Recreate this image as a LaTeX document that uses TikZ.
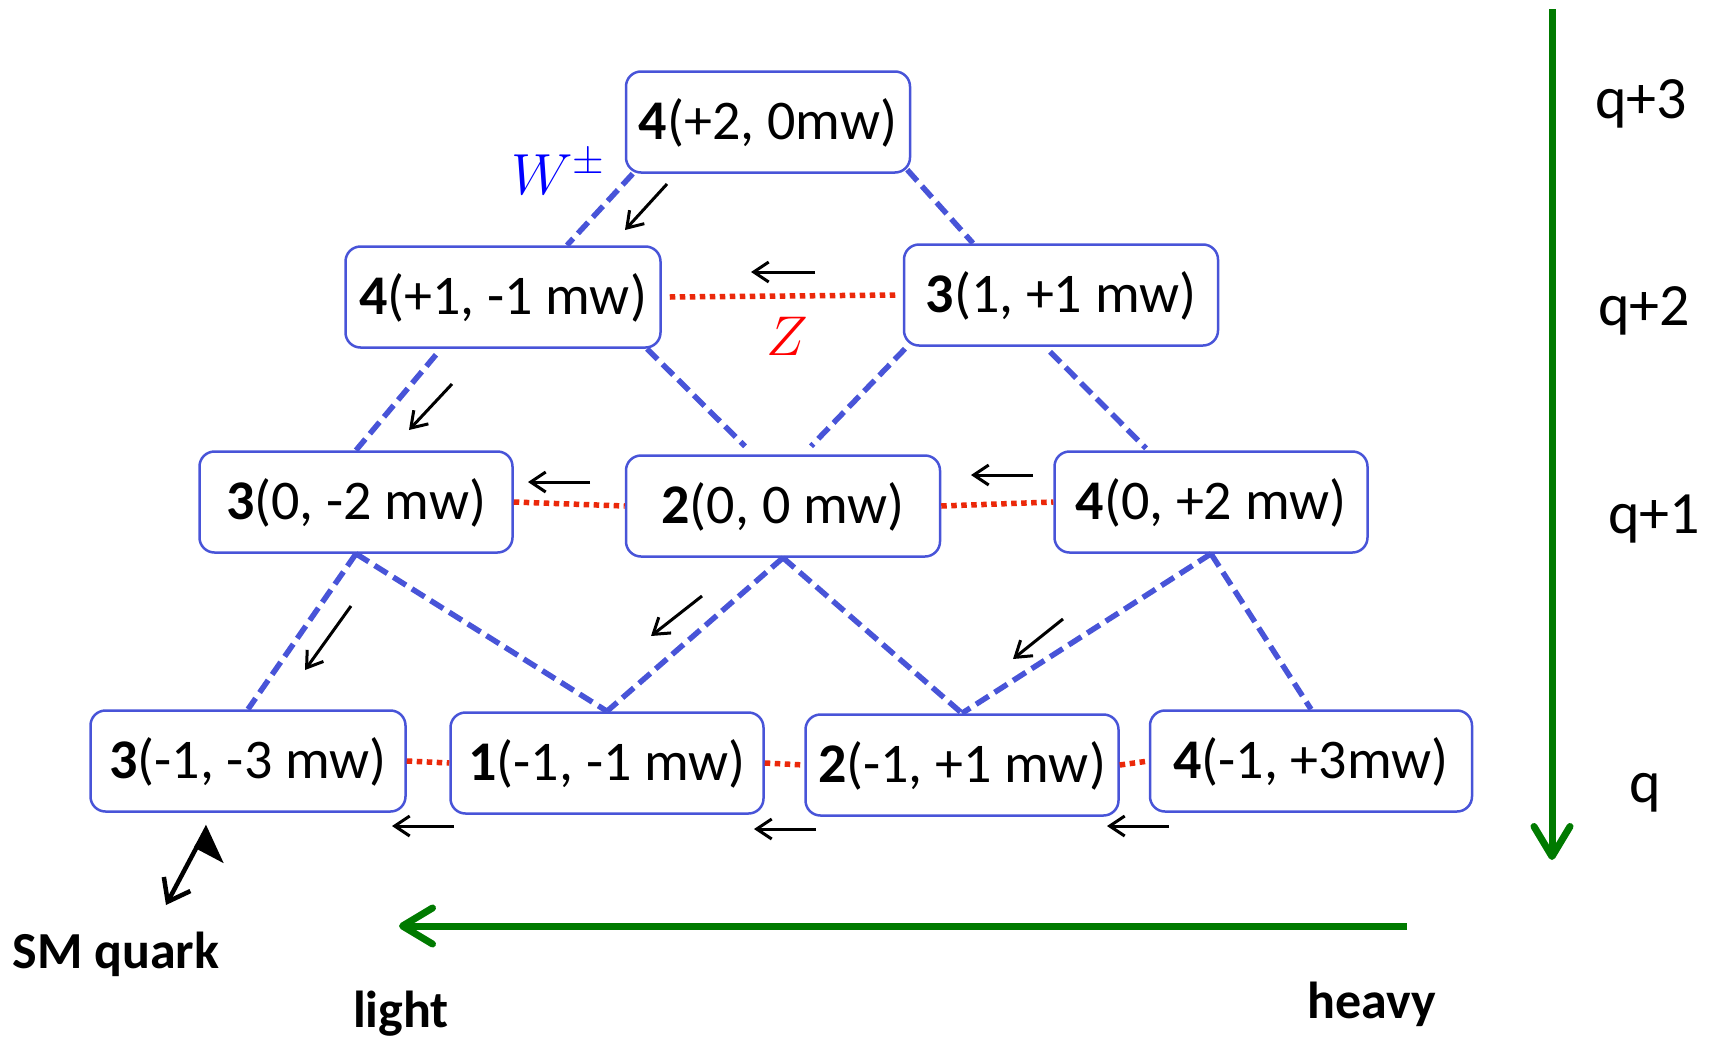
\RequirePackage{fix-cm}
\documentclass[tikz,border=0pt]{standalone}
\usepackage{fontspec}
\setmainfont{Carlito}
\usetikzlibrary{arrows.meta}
\definecolor{bx}{RGB}{72,84,216}
\definecolor{zred}{RGB}{235,40,10}
\definecolor{gr}{RGB}{0,122,0}
\begin{document}
\begin{tikzpicture}[x=1pt,y=-1pt,
  box/.style={draw=bx, line width=2.5pt, rounded corners=15pt, minimum height=101pt, minimum width=314pt, inner sep=0pt, text height=45pt, text depth=10pt, font=\fontsize{56}{66}\selectfont},
  wline/.style={draw=bx, line width=5.5pt, dash pattern=on 15pt off 7pt},
  zline/.style={draw=zred, line width=5.5pt, dash pattern=on 5.5pt off 4.5pt},
  sarr/.style={line width=3pt, -{Straight Barb[length=15pt,width=20pt]}},
  garr/.style={draw=gr, line width=7pt, -{Straight Barb[round,length=30pt,width=36pt]}},
  lab/.style={font=\fontsize{60}{70}\selectfont, anchor=base},
  blab/.style={font=\bfseries\fontsize{52}{62}\selectfont, anchor=base}
]
\useasboundingbox (0,0) rectangle (1719,1039);

% boxes
\node[box, minimum width=284pt] (A) at (768,122) {\textbf{4}(+2, 0mw)};
\node[box, minimum width=315pt] (B) at (503,297) {\textbf{4}(+1, -1 mw)};
\node[box] (C) at (1061,295) {\textbf{3}(1, +1 mw)};
\node[box, minimum width=313pt] (D) at (356,502) {\textbf{3}(0, -2 mw)};
\node[box] (E) at (783,506) {\textbf{2}(0, 0 mw)};
\node[box, minimum width=313pt] (F) at (1211,502) {\textbf{4}(0, +2 mw)};
\node[box, minimum width=315pt] (G) at (248,761) {\textbf{3}(-1, -3 mw)};
\node[box, minimum width=313pt] (H) at (607,763) {\textbf{1}(-1, -1 mw)};
\node[box, minimum width=313pt] (I) at (962,765) {\textbf{2}(-1, +1 mw)};
\node[box, minimum width=322pt] (J) at (1311,761) {\textbf{4}(-1, +3mw)};

% W lines
\draw[wline] ([xshift=8pt]A.south west) -- ([xshift=64pt]B.north);
\draw[wline] ([shift={(-4,-4)}]A.south east) -- ([xshift=-88pt]C.north);
\draw[wline] ([shift={(-67,6)}]B.south) -- (D.north);
\draw[wline] ([xshift=144pt]B.south) -- ([shift={(-38,-8)}]E.north);
\draw[wline] ([shift={(-156,2)}]C.south) -- ([shift={(28,-8)}]E.north);
\draw[wline] ([shift={(-11,5)}]C.south) -- ([shift={(-65,-2)}]F.north);
\draw[wline] (D.south) -- (G.north);
\draw[wline] (D.south) -- (H.north);
\draw[wline] (E.south) -- (H.north);
\draw[wline] (E.south) -- (I.north);
\draw[wline] (F.south) -- (I.north);
\draw[wline] (F.south) -- (J.north);

% Z lines
\draw[zline] ([xshift=8pt]B.east) -- ([xshift=-4pt]C.west);
\draw[zline] (D.east) -- (E.west);
\draw[zline] (E.east) -- (F.west);
\draw[zline] (G.east) -- (H.west);
\draw[zline] (H.east) -- (I.west);
\draw[zline] (I.east) -- (J.west);

% labels
\node[text=blue, font=\fontsize{58}{62}\selectfont] (W) at (558,172) {$W^{\pm}$};
\node[text=red, font=\fontsize{56}{60}\selectfont] (Z) at (787,336) {$Z$};

% small arrows
\draw[sarr] (667,184) -- (625,230);
\draw[sarr] (815,272) -- (751,272);
\draw[sarr] (452,384) -- (409,430);
\draw[sarr] (590,482) -- (528,482);
\draw[sarr] (1033,475) -- (971,475);
\draw[sarr] (351,606) -- (305,670);
\draw[sarr] (702,596) -- (651,636);
\draw[sarr] (1063,619) -- (1013,659);
\draw[sarr] (454,826) -- (392,826);
\draw[sarr] (816,829) -- (754,829);
\draw[sarr] (1169,826) -- (1107,826);

% right labels
\node[lab] (q3) at (1641,118) {q+3};
\node[lab] (q2) at (1644,325) {q+2};
\node[lab] (q1) at (1654,533) {q+1};
\node[lab] (q0) at (1645,802) {q};

% bottom labels
\node[blab] (sm) at (116,968) {SM quark};
\node[blab] (light) at (401,1027) {light};
\node[blab] (heavy) at (1372,1018) {heavy};

% SM quark arrow
\coordinate (smend) at (166,905);
\draw[line width=4.5pt, {Straight Barb[length=20pt,width=30pt]}-{Triangle[length=24pt,width=62pt,right]}] (smend) -- ([shift={(-40,13)}]G.south);

% green arrows
\coordinate (gv1) at (1552,9);
\coordinate (gv2) at (1552,860);
\draw[garr] (gv1) -- (gv2);
\coordinate (gh1) at (1407,926);
\coordinate (gh2) at (399,926);
\draw[garr] (gh1) -- (gh2);
\end{tikzpicture}
\end{document}
